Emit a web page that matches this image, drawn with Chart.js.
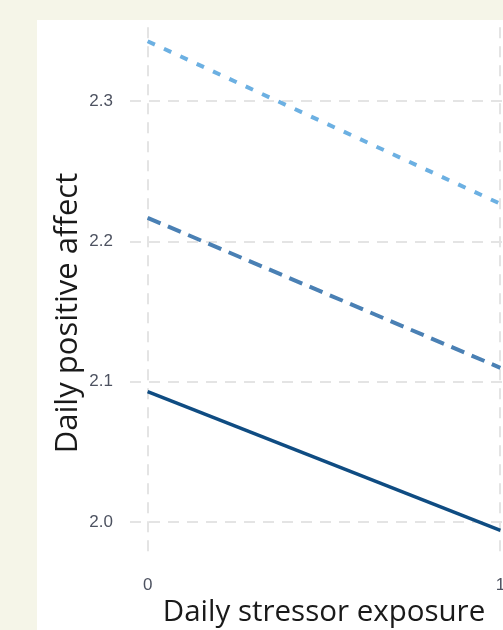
<!DOCTYPE html>
<html>
<head>
<meta charset="utf-8">
<script src="https://cdn.jsdelivr.net/npm/chart.js@4.4.1/dist/chart.umd.min.js"></script>
<style>
  html, body { margin: 0; padding: 0; width: 503px; height: 630px; overflow: hidden; background: #f5f5e8; }
  #panel { position: absolute; left: 37px; top: 20px; width: 600px; height: 620px; background: #ffffff; }
  #chart { position: absolute; left: 0; top: 0; }
</style>
</head>
<body>
<div id="panel"></div>
<canvas id="chart" width="580" height="630"></canvas>
<script>
// stressor exposure (0 = no stressor day, 1 = stressor day)
const xValues = [0, 1];
const xTicks = [0, 1];
const yTicks = [2.0, 2.1, 2.2, 2.3];

// predicted positive affect per moderator level
const highLevel = [2.343, 2.227];
const meanLevel = [2.217, 2.110];
const lowLevel = [2.093, 1.994];

const toPoints = (vals) => xValues.map((x, i) => ({ x: x, y: vals[i] }));

// y title is centred on the figure, not on the plot, so draw it by hand
const yTitlePlugin = {
  id: 'yTitle',
  afterDraw(chart) {
    const ctx = chart.ctx;
    ctx.save();
    ctx.translate(68, 313);
    ctx.rotate(-Math.PI / 2);
    ctx.font = '31px "Open Sans"';
    ctx.fillStyle = '#1a1a1a';
    ctx.textAlign = 'center';
    ctx.textBaseline = 'middle';
    ctx.fillText('Daily positive affect', 0, 0);
    ctx.restore();
  }
};

const gridStyle = {
  color: '#e4e4e4',
  lineWidth: 2,
  drawTicks: false
};

new Chart(document.getElementById('chart').getContext('2d'), {
  type: 'line',
  data: {
    datasets: [{
      label: 'High',
      data: toPoints(highLevel),
      borderColor: '#6cb0e2',
      borderWidth: 4,
      borderDash: [8, 10],
      pointRadius: 0
    }, {
      label: 'Mean',
      data: toPoints(meanLevel),
      borderColor: '#4a80b4',
      borderWidth: 4,
      borderDash: [14, 8],
      pointRadius: 0
    }, {
      label: 'Low',
      data: toPoints(lowLevel),
      borderColor: '#0f4c82',
      borderWidth: 3.5,
      pointRadius: 0
    }]
  },
  options: {
    responsive: false,
    animation: false,
    layout: { padding: { top: 25, right: 62, bottom: 3, left: 0 } },
    plugins: {
      legend: { display: false },
      tooltip: { enabled: false }
    },
    scales: {
      x: {
        type: 'linear',
        min: -0.05,
        max: 1.05,
        afterBuildTicks: (s) => { s.ticks = xTicks.map(v => ({ value: v })); },
        afterFit: (s) => { s.height = 70; },
        grid: gridStyle,
        border: { display: false, dash: [11, 8] },
        ticks: {
          padding: 18,
          color: '#4d5260',
          font: { family: '"Liberation Sans"', size: 17 },
          callback: (v) => String(v)
        },
        title: {
          display: true,
          text: 'Daily stressor exposure',
          color: '#1a1a1a',
          font: { family: '"Open Sans"', size: 29.5, lineHeight: 1 },
          padding: 0
        }
      },
      y: {
        min: 1.975,
        max: 2.353,
        afterBuildTicks: (s) => { s.ticks = yTicks.map(v => ({ value: v })); },
        afterFit: (s) => { s.width = 130; },
        grid: gridStyle,
        border: { display: false, dash: [11, 8] },
        ticks: {
          padding: 17,
          color: '#4d5260',
          font: { family: '"Liberation Sans"', size: 17 },
          callback: (v) => v.toFixed(1)
        }
      }
    }
  },
  plugins: [yTitlePlugin]
});
</script>
</body>
</html>
